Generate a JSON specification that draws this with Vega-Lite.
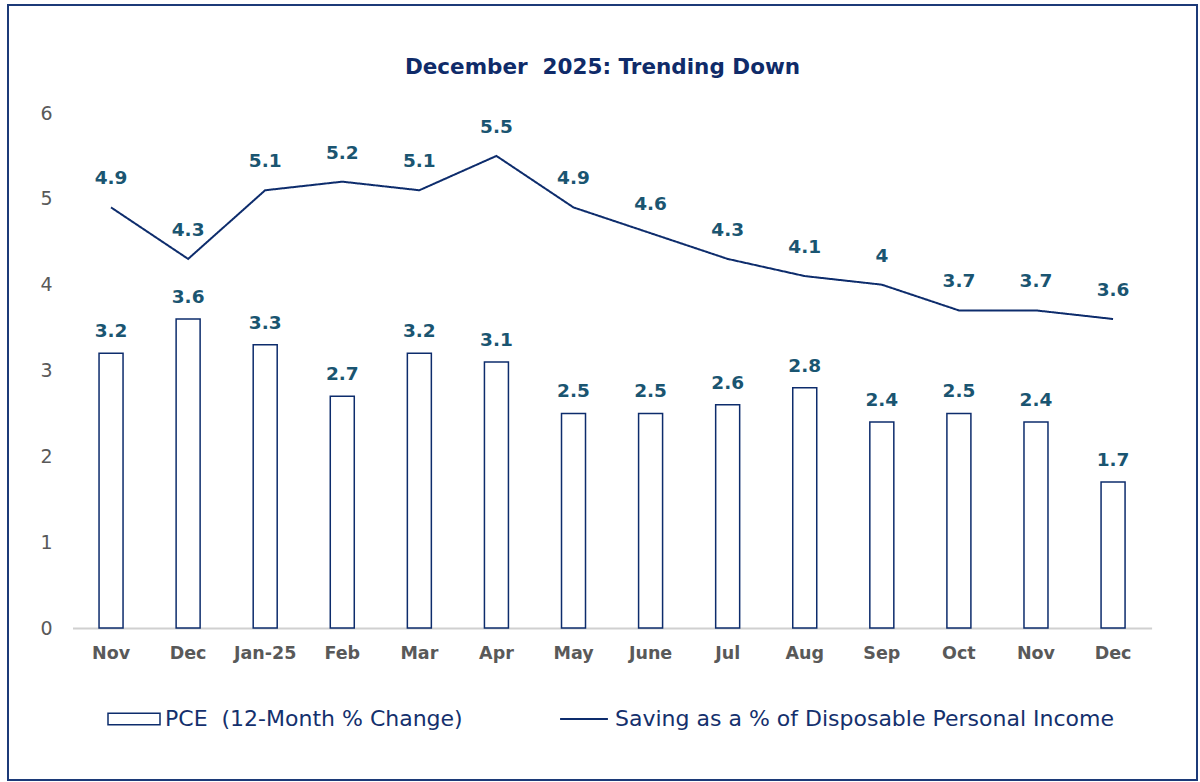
{
  "$schema": "https://vega.github.io/schema/vega-lite/v6.json",
  "autosize": "none",
  "padding": {"left": 8, "top": 5, "right": 3, "bottom": 2},
  "width": 1189,
  "height": 775,
  "background": "white",
  "config": {
    "font": "DejaVu Sans",
    "view": {"stroke": "#1c3a78", "strokeWidth": 2}
  },
  "title": {
    "text": "December \u00a02025: Trending Down",
    "anchor": "middle",
    "frame": "group",
    "orient": "top",
    "offset": -73,
    "fontSize": 21.5,
    "fontWeight": "bold",
    "color": "#0f2b69",
    "font": "DejaVu Sans"
  },
  "data": {
    "values": [
      {"month": "Nov|2024", "pce": 3.2, "saving": 4.9},
      {"month": "Dec|2024", "pce": 3.6, "saving": 4.3},
      {"month": "Jan-25|2025", "pce": 3.3, "saving": 5.1},
      {"month": "Feb|2025", "pce": 2.7, "saving": 5.2},
      {"month": "Mar|2025", "pce": 3.2, "saving": 5.1},
      {"month": "Apr|2025", "pce": 3.1, "saving": 5.5},
      {"month": "May|2025", "pce": 2.5, "saving": 4.9},
      {"month": "June|2025", "pce": 2.5, "saving": 4.6},
      {"month": "Jul|2025", "pce": 2.6, "saving": 4.3},
      {"month": "Aug|2025", "pce": 2.8, "saving": 4.1},
      {"month": "Sep|2025", "pce": 2.4, "saving": 4},
      {"month": "Oct|2025", "pce": 2.5, "saving": 3.7},
      {"month": "Nov|2025", "pce": 2.4, "saving": 3.7},
      {"month": "Dec|2025", "pce": 1.7, "saving": 3.6}
    ]
  },
  "encoding": {
    "x": {
      "field": "month",
      "type": "nominal",
      "sort": null,
      "scale": {"type": "band", "range": [64.5, 1143.6], "paddingInner": 0, "paddingOuter": 0},
      "axis": {
        "title": null,
        "orient": "bottom",
        "offset": -152,
        "labelExpr": "split(datum.value, '|')[0]",
        "labelAngle": 0,
        "ticks": false,
        "domain": true,
        "domainColor": "#d0d0d0",
        "domainWidth": 2,
        "labelPadding": 16,
        "labelFontSize": 17.5,
        "labelFontWeight": "bold",
        "labelColor": "#595959",
        "labelFont": "DejaVu Sans",
        "grid": false
      }
    }
  },
  "layer": [
    {
      "mark": {"type": "bar", "fill": "white", "strokeWidth": 1.5, "size": 24},
      "encoding": {
        "y": {
          "field": "pce",
          "type": "quantitative",
          "scale": {"domain": [0, 6], "range": [623, 108], "nice": false},
          "axis": {
            "title": null,
            "orient": "left",
            "offset": -50,
            "values": [0, 1, 2, 3, 4, 5, 6],
            "format": "d",
            "ticks": false,
            "domain": false,
            "grid": false,
            "labelPadding": 6,
            "labelFontSize": 19,
            "labelColor": "#595959",
            "labelFont": "DejaVu Sans"
          }
        },
        "stroke": {
          "datum": "PCE \u00a0(12-Month % Change)",
          "type": "nominal",
          "scale": {"range": ["#0d2c6c"]},
          "legend": {
            "title": null,
            "orient": "none",
            "legendX": 99,
            "legendY": 687,
            "padding": 0,
            "symbolType": "M-1,-0.22H1V0.22H-1Z",
            "symbolSize": 2704,
            "symbolStrokeWidth": 1.5,
            "symbolStrokeColor": "#0d2c6c",
            "symbolFillColor": "white",
            "labelOffset": 4,
            "labelFontSize": 22,
            "labelColor": "#14306d",
            "labelFont": "DejaVu Sans",
            "labelLimit": 800
          }
        }
      }
    },
    {
      "mark": {"type": "text", "baseline": "middle", "dy": -22, "fontSize": 18.5, "fontWeight": "bold", "color": "#1a5571", "font": "DejaVu Sans"},
      "encoding": {
        "y": {"field": "pce", "type": "quantitative"},
        "text": {"field": "pce", "type": "quantitative"}
      }
    },
    {
      "mark": {"type": "line", "strokeWidth": 2, "color": "#0d2c6c"},
      "encoding": {
        "y": {"field": "saving", "type": "quantitative"},
        "strokeDash": {
          "datum": "Saving as a % of Disposable Personal Income",
          "type": "nominal",
          "scale": {"range": [[1, 0]]},
          "legend": {
            "title": null,
            "orient": "none",
            "legendX": 549,
            "legendY": 687,
            "padding": 0,
            "symbolType": "M-0.92,0H0.92",
            "symbolSize": 2704,
            "symbolStrokeWidth": 2,
            "symbolStrokeColor": "#0d2c6c",
            "labelOffset": 4,
            "labelFontSize": 22,
            "labelColor": "#14306d",
            "labelFont": "DejaVu Sans",
            "labelLimit": 800
          }
        }
      }
    },
    {
      "mark": {"type": "text", "baseline": "middle", "dy": -29, "fontSize": 18.5, "fontWeight": "bold", "color": "#1a5571", "font": "DejaVu Sans"},
      "encoding": {
        "y": {"field": "saving", "type": "quantitative"},
        "text": {"field": "saving", "type": "quantitative"}
      }
    }
  ]
}
